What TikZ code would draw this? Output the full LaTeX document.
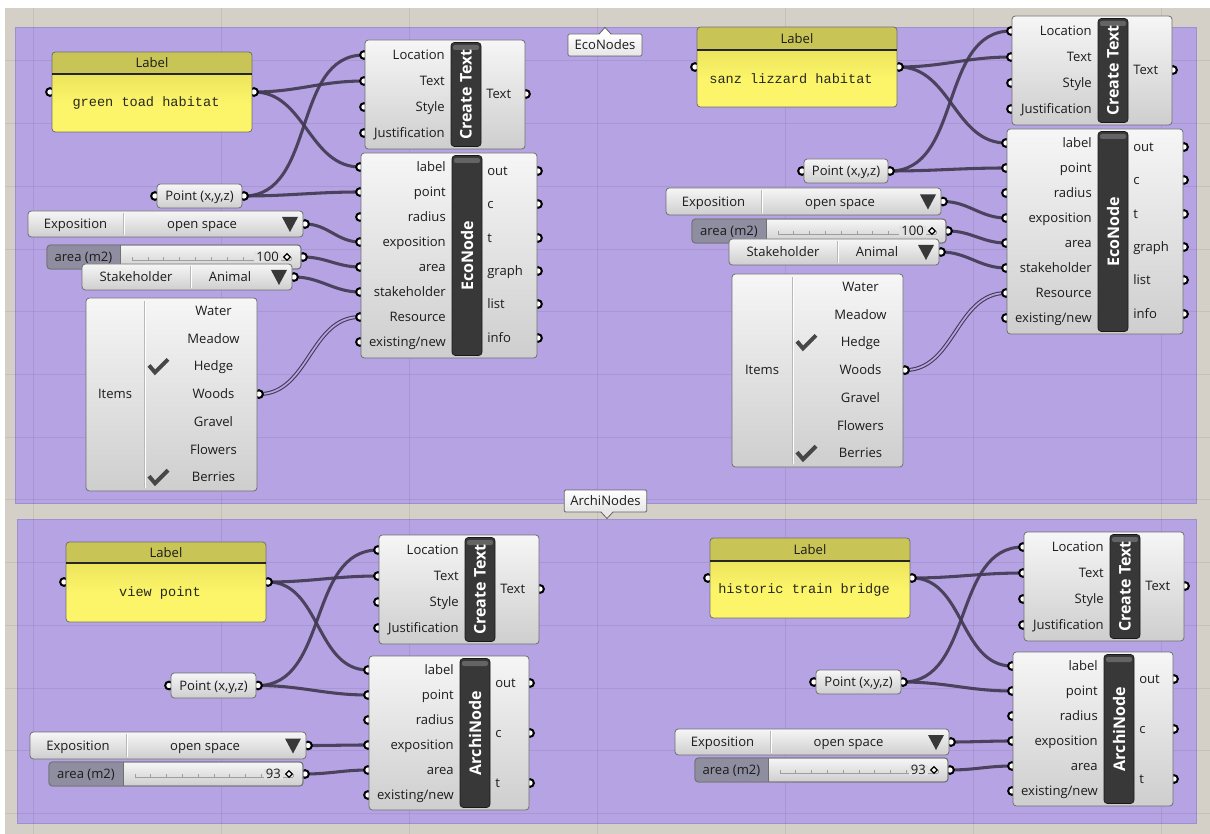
\documentclass[tikz,border=0pt]{standalone}
\usepackage{fontspec}
\setmainfont{Open Sans}
\newfontfamily\ghmono{Liberation Mono}
\usetikzlibrary{calc}
\pgfdeclarelayer{grp}
\pgfdeclarelayer{wires}
\pgfdeclarelayer{portlayer}
\pgfsetlayers{grp,wires,portlayer,main}

\definecolor{canvas}{RGB}{212,208,200}
\definecolor{grpfill}{RGB}{181,163,228}
\definecolor{grpline}{RGB}{158,144,205}
\definecolor{boxtop}{RGB}{246,246,246}
\definecolor{boxbot}{RGB}{206,206,206}
\definecolor{boxmid}{RGB}{226,226,226}
\definecolor{boxline}{RGB}{112,112,112}
\definecolor{barfill}{RGB}{56,56,56}
\definecolor{barhi}{RGB}{100,100,100}
\definecolor{labhead}{RGB}{200,196,86}
\definecolor{labtop}{RGB}{236,228,92}
\definecolor{labbody}{RGB}{252,245,106}
\definecolor{wirec}{RGB}{66,58,82}
\definecolor{slidedark}{RGB}{143,141,160}
\definecolor{txt}{RGB}{28,28,28}
\definecolor{monotxt}{RGB}{40,40,30}
\definecolor{tagline}{RGB}{100,100,100}

\tikzset{
  ghbody/.style={draw=boxline, line width=0.6pt, rounded corners=2.5pt, top color=boxtop, bottom color=boxbot},
  ghbar/.style={draw=black!90, line width=0.5pt, fill=barfill, rounded corners=2.5pt},
  bartitle/.style={text=white, font=\fontsize{12}{12}\selectfont\bfseries, inner sep=0pt},
  plabel/.style={text=txt, font=\fontsize{9.8}{10}\selectfont, inner sep=0pt, text height=6.8pt, text depth=0pt},
  monotext/.style={text=monotxt, font=\fontsize{10.2}{11}\selectfont\ghmono, inner sep=0pt},
  port/.style={draw=black, fill=white, line width=1.5pt},
  wire/.style={draw=wirec, line width=2.3pt, opacity=0.92},
  listwire/.style={draw=wirec, line width=0.8pt, double=grpfill, double distance=1.3pt},
  groove/.style={draw=black!28, line width=0.6pt},
  tri/.style={fill=black!78},
  trackst/.style={draw=black!38, line width=0.5pt},
  checkst/.style={draw=black!72, line width=3pt, line join=miter, line cap=butt},
  grpst/.style={fill=grpfill, draw=grpline, line width=0.6pt},
  gridst/.style={draw=black, opacity=0.07, line width=0.75pt},
  tagst/.style={draw=tagline, line width=0.6pt, top color=white, bottom color=black!10, rounded corners=1pt,
                inner sep=0pt, minimum height=16.5pt, text=txt, font=\fontsize{9.8}{10}\selectfont}
}

% a port circle, half hidden under its component
\newcommand\ghport[3]{\coordinate (#1) at ({#2},{#3});
  \begin{pgfonlayer}{portlayer}\draw[port] (#1) circle (2.9pt);\end{pgfonlayer}}
% input: name, x, y, label x, label
\newcommand\ghin[5]{\ghport{#1}{#2}{#3}\node[plabel, anchor=east] (#1-t) at ({#4},{#3}) {#5};}
% output: name, x, y, label x, label
\newcommand\ghout[5]{\ghport{#1}{#2}{#3}\node[plabel, anchor=west] (#1-t) at ({#4},{#3}) {#5};}

% component body with dark title bar: name, x1, y1, x2, y2, bar x1, bar x2, title
\newcommand\ghcomp[8]{%
  \path[ghbody] ({#2},{#3}) rectangle ({#4},{#5});
  \path[ghbar] ({#6},{#3+2.5}) rectangle ({#7},{#5-2.5});
  \fill[barhi, rounded corners=1.5pt] ({#6+2},{#3+5}) rectangle ({#7-2},{#3+10});
  \node[bartitle, rotate=90] (#1) at ({(#6+#7)/2},{(#3+#5)/2}) {#8};}

\newcommand\ghcreatetext[3]{%
  \ghcomp{#1}{#2}{#3}{#2+160}{#3+109}{#2+86}{#2+116}{Create Text}
  \ghin{#1-loc}{#2-1}{#3+15}{#2+80}{Location}
  \ghin{#1-txt}{#2-1}{#3+41}{#2+80}{Text}
  \ghin{#1-sty}{#2-1}{#3+67}{#2+80}{Style}
  \ghin{#1-jus}{#2-1}{#3+93}{#2+80}{Justification}
  \ghout{#1-o}{#2+161}{#3+54}{#2+121}{Text}}

\newcommand\ghecnode[3]{%
  \ghcomp{#1}{#2}{#3}{#2+176}{#3+205}{#2+91}{#2+121}{EcoNode}
  \ghin{#1-lab}{#2-1}{#3+14}{#2+85}{label}
  \ghin{#1-pt}{#2-1}{#3+39}{#2+85}{point}
  \ghin{#1-rad}{#2-1}{#3+64}{#2+85}{radius}
  \ghin{#1-exp}{#2-1}{#3+89}{#2+85}{exposition}
  \ghin{#1-area}{#2-1}{#3+114}{#2+85}{area}
  \ghin{#1-stk}{#2-1}{#3+139}{#2+85}{stakeholder}
  \ghin{#1-res}{#2-1}{#3+164}{#2+85}{Resource}
  \ghin{#1-new}{#2-1}{#3+189}{#2+85}{existing/new}
  \ghout{#1-out}{#2+177}{#3+18}{#2+126}{out}
  \ghout{#1-c}{#2+177}{#3+51}{#2+126}{c}
  \ghout{#1-t}{#2+177}{#3+85}{#2+126}{t}
  \ghout{#1-gr}{#2+177}{#3+118}{#2+126}{graph}
  \ghout{#1-li}{#2+177}{#3+151}{#2+126}{list}
  \ghout{#1-inf}{#2+177}{#3+185}{#2+126}{info}}

\newcommand\gharchinode[3]{%
  \ghcomp{#1}{#2}{#3}{#2+160}{#3+154}{#2+91}{#2+121}{ArchiNode}
  \ghin{#1-lab}{#2-1}{#3+14}{#2+85}{label}
  \ghin{#1-pt}{#2-1}{#3+39}{#2+85}{point}
  \ghin{#1-rad}{#2-1}{#3+64}{#2+85}{radius}
  \ghin{#1-exp}{#2-1}{#3+89}{#2+85}{exposition}
  \ghin{#1-area}{#2-1}{#3+114}{#2+85}{area}
  \ghin{#1-new}{#2-1}{#3+139}{#2+85}{existing/new}
  \ghout{#1-out}{#2+161}{#3+27}{#2+126}{out}
  \ghout{#1-c}{#2+161}{#3+77}{#2+126}{c}
  \ghout{#1-t}{#2+161}{#3+127}{#2+126}{t}}

% text panel: name, x1, y1, x2, y2, header bottom, text
\newcommand\ghlabel[7]{%
  \begin{scope}
    \clip[rounded corners=2.5pt] ({#2},{#3}) rectangle ({#4},{#5});
    \shade[top color=labtop, bottom color=labbody, middle color=labbody] ({#2},{#6}) rectangle ({#4},{#5});
    \fill[labhead] ({#2},{#3}) rectangle ({#4},{#6});
  \end{scope}
  \draw[boxline, line width=0.6pt, rounded corners=2.5pt] ({#2},{#3}) rectangle ({#4},{#5});
  \draw[black!85, line width=0.9pt] ({#2},{#6}) -- ({#4},{#6});
  \node[plabel] (#1-h) at ({(#2+#4)/2},{(#3+#6)/2}) {Label};
  \node[monotext] (#1) at ({(#2+#4)/2-6},{(#6+#5)/2}) {#7};
  \ghport{#1-i}{#2-2}{(#3+#5)/2}
  \ghport{#1-o}{#4+2}{(#3+#5)/2}}

% point parameter: name, x1, y1, x2, y2
\newcommand\ghpoint[5]{%
  \path[ghbody] ({#2},{#3}) rectangle ({#4},{#5});
  \node[plabel] (#1) at ({(#2+#4)/2},{(#3+#5)/2}) {Point (x,y,z)};
  \ghport{#1-i}{#2-2}{(#3+#5)/2}
  \ghport{#1-o}{#4+2}{(#3+#5)/2}}

% dropdown: name, x1, y1, x2, y2, divider x, key, value
\newcommand\ghdrop[8]{%
  \pgfmathsetmacro\ghmy{(#3+#5)/2}%
  \pgfmathsetmacro\ghtx{#4-13}%
  \path[ghbody] ({#2},{#3}) rectangle ({#4},{#5});
  \draw[groove] ({#6},{#3+2}) -- ({#6},{#5-2});
  \draw[white, line width=0.6pt] ({#6+1},{#3+2}) -- ({#6+1},{#5-2});
  \node[plabel] (#1-k) at ({(#2+#6)/2},\ghmy) {#7};
  \node[plabel] (#1) at ({(#6+\ghtx-9)/2},\ghmy) {#8};
  \fill[tri] ({\ghtx-8},{\ghmy-7}) -- ({\ghtx+8},{\ghmy-7}) -- ({\ghtx},{\ghmy+8}) -- cycle;
  \ghport{#1-o}{#4+2}{\ghmy}}

% number slider: name, x1, y1, x2, y2, key end x, key, value
\newcommand\ghslider[8]{%
  \pgfmathsetmacro\ghmy{(#3+#5)/2}%
  \path[ghbody] ({#2},{#3}) rectangle ({#4},{#5});
  \begin{scope}
    \clip[rounded corners=2.5pt] ({#2},{#3}) rectangle ({#4},{#5});
    \fill[slidedark] ({#2},{#3}) rectangle ({#6},{#5});
  \end{scope}
  \draw[boxline, line width=0.6pt, rounded corners=2.5pt] ({#2},{#3}) rectangle ({#4},{#5});
  \draw[boxline, line width=0.6pt] ({#6},{#3}) -- ({#6},{#5});
  \node[plabel] (#1-k) at ({(#2+#6)/2},\ghmy) {#7};
  \draw[trackst] ({#6+12},{\ghmy+3}) -- ({#4-10},{\ghmy+3});
  \foreach \s in {0,...,10}{\draw[trackst] ({#6+12+\s*(#4-#6-22)/10},{\ghmy+3}) -- ++(0,-3);}
  \node[plabel, anchor=east, fill=boxmid, inner xsep=1.5pt] (#1) at ({#4-20},\ghmy) {#8};
  \draw[fill=white, line width=0.9pt] ({#4-14},\ghmy) +(-3.2,0) -- +(0,-3.2) -- +(3.2,0) -- +(0,3.2) -- cycle;
  \ghport{#1-o}{#4+2}{\ghmy}}

\newcommand\ghcheck[2]{\draw[checkst] ({#1-9},{#2-1}) -- ({#1-3},{#2+6}) -- ({#1+10},{#2-7});}

% value list: name, x1, y1, x2, y2, divider x
\newcommand\ghlist[6]{%
  \pgfmathsetmacro\ghmy{#3+13+3*27.7}%
  \path[ghbody] ({#2},{#3}) rectangle ({#4},{#5});
  \draw[groove] ({#6},{#3+3}) -- ({#6},{#5-3});
  \draw[white, line width=0.6pt] ({#6+1},{#3+3}) -- ({#6+1},{#5-3});
  \node[plabel] (#1-k) at ({(#2+#6)/2},\ghmy) {Items};
  \foreach \t [count=\k from 0] in {Water,Meadow,Hedge,Woods,Gravel,Flowers,Berries}{%
    \node[plabel] (#1-\k) at ({(#6+#4)/2+13},{#3+13+27.7*\k}) {\t};}
  \ghcheck{#6+14}{#3+13+27.7*2}
  \ghcheck{#6+14}{#3+13+27.7*6}
  \ghport{#1-o}{#4+2}{\ghmy}}

\newcommand\ghwire[2]{\draw[wire] (#1) to[out=0,in=180] (#2);}

\begin{document}
\begin{tikzpicture}[x=0.75pt,y=-0.75pt]
\useasboundingbox (0,0) rectangle (1210,834);

% canvas, groups and grid
\begin{pgfonlayer}{grp}
  \fill[white] (0,0) rectangle (1210,834);
  \fill[canvas] (5,8) rectangle (1210,834);
  \path[grpst] (15,27) rectangle (1196,503);
  \path[grpst] (17,519) rectangle (1196,823);
  \foreach \gx in {33,221,...,1161}{\draw[gridst] (\gx,8) -- (\gx,834);}
  \foreach \gk in {0,...,12}{\draw[gridst] (5,{61+62.7*\gk}) -- (1210,{61+62.7*\gk});}
\end{pgfonlayer}

% group tags
\node[tagst, minimum width=55.5pt] (ecotag) at (605,45) {EcoNodes};
\fill[white] (599,35) -- (605,27.5) -- (611,35) -- cycle;
\draw[tagline, line width=0.6pt] (599,34) -- (605,27.5) -- (611,34);
\node[tagst, minimum width=62pt] (archtag) at (605.5,501) {ArchiNodes};
\fill[black!9] (601,511) -- (607,518.5) -- (613,511) -- cycle;
\draw[tagline, line width=0.6pt] (601,512) -- (607,518.5) -- (613,512);

% ---------- EcoNodes, first habitat ----------
\ghlabel{lab1}{52}{52}{252}{132}{74}{green toad habitat}
\ghpoint{pt1}{157}{184}{242}{208}
\ghdrop{ex1}{28}{211}{303}{237}{123}{Exposition}{open space}
\ghslider{ar1}{47}{245}{301}{269}{120}{area (m2)}{100}
\ghdrop{st1}{82}{264}{292}{290}{190}{Stakeholder}{Animal}
\ghlist{it1}{86}{298}{257}{491}{144}
\ghcreatetext{ct1}{365}{40}
\ghecnode{en1}{361}{153}

% ---------- EcoNodes, second habitat ----------
\ghlabel{lab2}{697}{27}{897}{107}{50}{sanz lizzard habitat}
\ghpoint{pt2}{804}{159}{888}{183}
\ghdrop{ex2}{666}{188}{941}{215}{761}{Exposition}{open space}
\ghslider{ar2}{692}{219}{946}{243}{766}{area (m2)}{100}
\ghdrop{st2}{729}{239}{939}{265}{837}{Stakeholder}{Animal}
\ghlist{it2}{732}{274}{903}{467}{792}
\ghcreatetext{ct2}{1012}{16}
\ghecnode{en2}{1007}{129}

% ---------- ArchiNodes, view point ----------
\ghlabel{lab3}{66}{542}{266}{622}{563}{view point}
\ghpoint{pt3}{171}{673}{256}{698}
\ghdrop{ex3}{30}{732}{306}{759}{126}{Exposition}{open space}
\ghslider{ar3}{49}{762}{303}{786}{123}{area (m2)}{93}
\ghcreatetext{ct3}{379}{535}
\gharchinode{an3}{369}{656}

% ---------- ArchiNodes, train bridge ----------
\ghlabel{lab4}{710}{538}{910}{618}{561}{historic train bridge}
\ghpoint{pt4}{816}{670}{901}{694}
\ghdrop{ex4}{675}{729}{949}{755}{770}{Exposition}{open space}
\ghslider{ar4}{695}{758}{948}{782}{768}{area (m2)}{93}
\ghcreatetext{ct4}{1024}{532}
\gharchinode{an4}{1013}{652}

% ---------- wires ----------
\begin{pgfonlayer}{wires}
  \ghwire{lab1-o}{ct1-txt}
  \ghwire{lab1-o}{en1-lab}
  \ghwire{pt1-o}{ct1-loc}
  \ghwire{pt1-o}{en1-pt}
  \ghwire{ex1-o}{en1-exp}
  \ghwire{ar1-o}{en1-area}
  \ghwire{st1-o}{en1-stk}
  \draw[listwire] (it1-o) to[out=0,in=180] (en1-res);

  \ghwire{lab2-o}{ct2-txt}
  \ghwire{lab2-o}{en2-lab}
  \ghwire{pt2-o}{ct2-loc}
  \ghwire{pt2-o}{en2-pt}
  \ghwire{ex2-o}{en2-exp}
  \ghwire{ar2-o}{en2-area}
  \ghwire{st2-o}{en2-stk}
  \draw[listwire] (it2-o) to[out=0,in=180] (en2-res);

  \ghwire{lab3-o}{ct3-txt}
  \ghwire{lab3-o}{an3-lab}
  \ghwire{pt3-o}{ct3-loc}
  \ghwire{pt3-o}{an3-pt}
  \ghwire{ex3-o}{an3-exp}
  \ghwire{ar3-o}{an3-area}

  \ghwire{lab4-o}{ct4-txt}
  \ghwire{lab4-o}{an4-lab}
  \ghwire{pt4-o}{ct4-loc}
  \ghwire{pt4-o}{an4-pt}
  \ghwire{ex4-o}{an4-exp}
  \ghwire{ar4-o}{an4-area}
\end{pgfonlayer}
\end{tikzpicture}
\end{document}
